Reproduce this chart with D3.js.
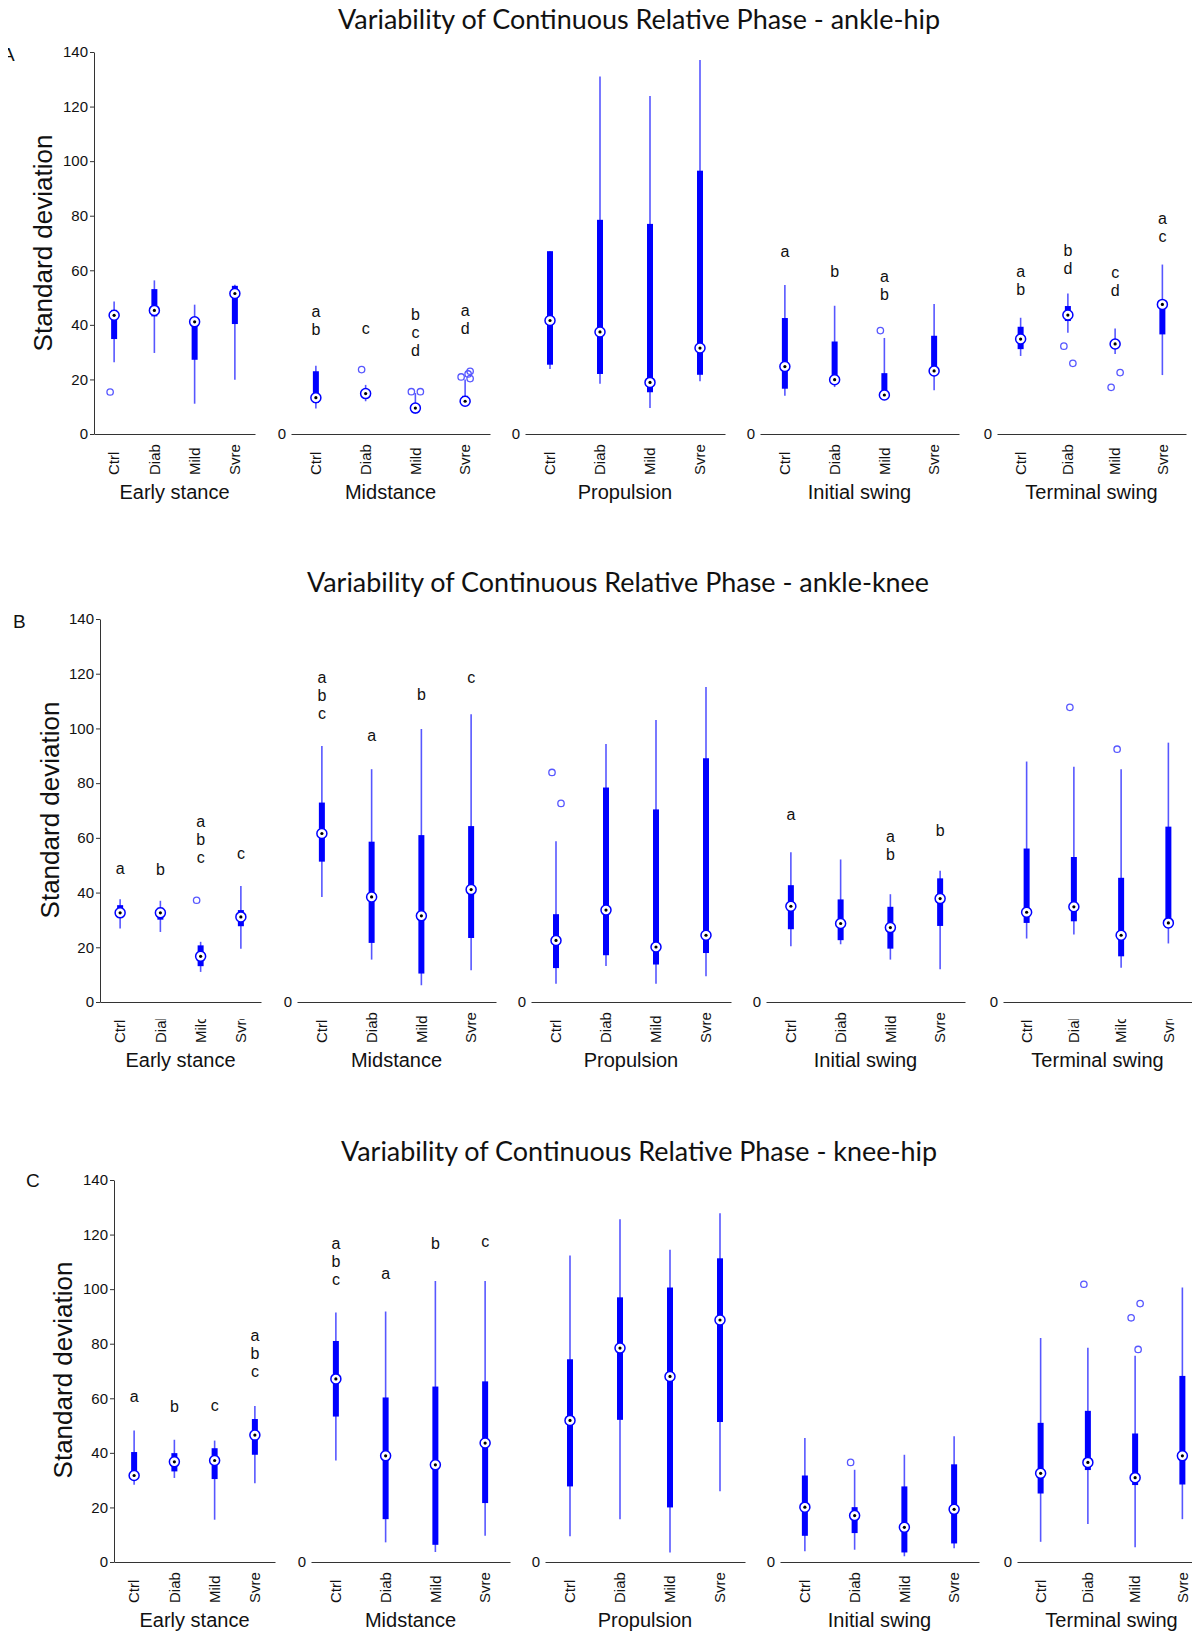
<!DOCTYPE html>
<html>
<head>
<meta charset="utf-8">
<script src="https://cdn.jsdelivr.net/npm/d3@7"></script>
<style>
  body { margin: 0; background: #fff; }
  svg { display: block; }
  text { font-family: "Liberation Sans", Arial, sans-serif; fill: #111; }
</style>
</head>
<body>
<svg width="1192" height="1631"></svg>
<script>
const groups = ["Ctrl", "Diab", "Mild", "Svre"];
const phases = ["Early stance", "Midstance", "Propulsion", "Initial swing", "Terminal swing"];
const yTicks = [0, 20, 40, 60, 80, 100, 120, 140];
const rowTitles = [
  "Variability of Continuous Relative Phase - ankle-hip",
  "Variability of Continuous Relative Phase - ankle-knee",
  "Variability of Continuous Relative Phase - knee-hip",
];
const rowTags = ["A", "B", "C"];

// [whisker low, q1, median, q3, whisker high] per phase, per group
const ankleHipStats = [
  [[26.3, 34.8, 43.5, 45.5, 48.6], [29.7, 43.1, 45.3, 53.1, 56.3], [11.1, 27.2, 41.1, 42.9, 47.4], [19.9, 40.3, 51.5, 54.3, 54.7]],
  [[9.3, 11.4, 13.3, 23, 25], [12, 13.8, 14.8, 16.2, 18], [7.4, 8.6, 9.5, 10.5, 15], [10.4, 10.7, 12, 14, 20]],
  [[23.8, 25.4, 41.6, 67, 67], [18.4, 22, 37.4, 78.5, 131], [9.5, 15.3, 18.9, 77, 123.9], [19.3, 21.7, 31.5, 96.5, 137.1]],
  [[14, 16.6, 24.7, 42.5, 54.6], [17.2, 18.4, 19.9, 33.9, 47], [13.2, 13.6, 14.3, 22.3, 35.2], [16, 22.3, 23.1, 36, 47.6]],
  [[28.6, 31.1, 34.8, 39.3, 42.6], [37.1, 41.4, 43.6, 46.9, 51.5], [29.3, 31.4, 33, 34.4, 38.7], [21.6, 36.5, 47.5, 47.6, 62.1]],
];
const ankleHipOutliers = [
  [[15.4], [], [], []],
  [[], [23.6], [15.5, 15.5], [20.9, 23, 22, 20.3]],
  [[], [], [], []],
  [[], [], [37.9], []],
  [[], [32.2, 25.9], [17.1, 22.5], []],
];
// [letters, value of first letter]
const ankleHipLetters = [
  [null, null, null, null],
  [["ab", 45], ["c", 38.6], ["bcd", 43.7], ["ad", 45.3]],
  [null, null, null, null],
  [["a", 66.9], ["b", 59.6], ["ab", 57.8], null],
  [["ab", 59.5], ["bd", 67.4], ["cd", 59.2], ["ac", 79]],
];

const ankleKneeStats = [
  [[26.9, 31.1, 32.6, 35.4, 37.6], [25.6, 30.1, 32.6, 34.5, 37], [11, 13.1, 16.7, 20.7, 22], [19.5, 27.7, 31.1, 33.6, 42.4]],
  [[38.4, 51.3, 61.6, 72.9, 93.6], [15.5, 21.6, 38.4, 58.6, 85.1], [6.1, 10.4, 31.5, 61, 99.8], [11.6, 23.4, 41.1, 64.3, 105.2]],
  [[6.7, 12.4, 22.5, 32.1, 58.8], [13.2, 17.1, 33.6, 78.4, 94.3], [6.7, 13.7, 20.1, 70.4, 103.1], [9.4, 17.9, 24.4, 89.1, 115.1]],
  [[20.4, 26.6, 35, 42.7, 54.7], [21.1, 22.6, 28.7, 37.5, 52.1], [15.5, 19.5, 27.2, 34.8, 39.4], [12, 27.8, 37.8, 45.2, 48]],
  [[23.2, 28.9, 32.8, 56.1, 87.9], [24.7, 29.5, 34.8, 53, 86], [12.5, 16.7, 24.4, 45.4, 85.1], [21.4, 27.1, 28.9, 64.1, 94.8]],
];
const ankleKneeOutliers = [
  [[], [], [37.2], []],
  [[], [], [], []],
  [[83.9, 72.6], [], [], []],
  [[], [], [], []],
  [[], [107.7], [92.4], []],
];
const ankleKneeLetters = [
  [["a", 48.8], ["b", 48.5], ["abc", 65.9], ["c", 54.3]],
  [["abc", 118.6], ["a", 97.6], ["b", 112.5], ["c", 118.6]],
  [null, null, null, null],
  [["a", 68.4], null, ["ab", 60.4], ["b", 62.6]],
  [null, null, null, null],
];

const kneeHipStats = [
  [[28.3, 30.8, 31.7, 40.3, 48.2], [30.8, 33.2, 36.7, 39.9, 44.8], [15.5, 30.4, 37.2, 41.7, 44.5], [28.9, 39.3, 46.5, 52.4, 57.2]],
  [[37.2, 53.3, 67.1, 81, 91.4], [7.2, 15.7, 38.9, 60.3, 91.8], [3.7, 6.3, 35.6, 64.3, 103], [9.6, 21.6, 43.6, 66.2, 103]],
  [[9.4, 27.7, 51.9, 74.3, 112.3], [15.7, 52.1, 78.4, 97, 125.6], [3.5, 20, 68, 100.6, 114.4], [25.9, 51.3, 88.7, 111.3, 127.8]],
  [[3.9, 9.6, 20.1, 31.7, 45.4], [4.5, 10.6, 17, 20.1, 33.8], [2.1, 3.5, 12.7, 27.7, 39.3], [5, 6.8, 19.3, 35.8, 46.1]],
  [[7.4, 25.1, 32.5, 51, 82.1], [13.9, 33.7, 36.5, 55.4, 78.5], [5.4, 28.2, 30.9, 47.1, 75.6], [15.7, 28.4, 38.9, 68.2, 100.6]],
];
const kneeHipOutliers = [
  [[], [], [], []],
  [[], [], [], []],
  [[], [], [], []],
  [[], [36.5], [], []],
  [[], [101.8], [89.5, 94.7, 77.9], []],
];
const kneeHipLetters = [
  [["a", 60.7], ["b", 57.2], ["c", 57.4], ["abc", 82.9]],
  [["abc", 116.8], ["a", 105.6], ["b", 116.8], ["c", 117.4]],
  [null, null, null, null],
  [null, null, null, null],
  [null, null, null, null],
];

// layout
const panelLeft = [94, 291, 525, 760, 997];
const panelWidth = [161, 199, 200, 199, 189];
const jitter = [-4, 5, 3, 5];
const rows = [
  { stats: ankleHipStats, out: ankleHipOutliers, sig: ankleHipLetters, dx: 0, y0: 434, y1: 52,
    titleX: 338, titleLen: 602, titleY: 29, labX: 43, labY: 243, tagX: 2, tagY: 61, clip: [] },
  { stats: ankleKneeStats, out: ankleKneeOutliers, sig: ankleKneeLetters, dx: 6, y0: 1002, y1: 619,
    titleX: 307, titleLen: 622, titleY: 592, labX: 50, labY: 810, tagX: 13, tagY: 628, clip: [0, 4] },
  { stats: kneeHipStats, out: kneeHipOutliers, sig: kneeHipLetters, dx: 20, y0: 1562, y1: 1180,
    titleX: 341, titleLen: 596, titleY: 1161, labX: 63, labY: 1370, tagX: 26, tagY: 1187, clip: [] },
];

const svg = d3.select("svg");
const defs = svg.append("defs");
defs.append("clipPath").attr("id", "tagclip")
  .append("rect").attr("x", 8).attr("y", 0).attr("width", 40).attr("height", 100);
defs.append("clipPath").attr("id", "labclip")
  .append("rect").attr("x", 0).attr("y", 1019).attr("width", 1192).attr("height", 60);

const boxBlue = "#0000ff";
const lineBlue = "#5757ff";

rows.forEach((row, r) => {
  const y = d3.scaleLinear([0, 140], [row.y0, row.y1]);

  svg.append("text")
    .attr("x", row.titleX).attr("y", row.titleY)
    .attr("textLength", row.titleLen).attr("lengthAdjust", "spacingAndGlyphs")
    .style("font-family", "Lato, 'Open Sans', sans-serif")
    .style("font-size", "26px")
    .text(rowTitles[r]);

  svg.append("text")
    .attr("x", row.tagX).attr("y", row.tagY)
    .attr("clip-path", r === 0 ? "url(#tagclip)" : null)
    .style("font-size", "19px")
    .text(rowTags[r]);

  svg.append("text")
    .attr("transform", `translate(${row.labX},${row.labY}) rotate(-90)`)
    .attr("text-anchor", "middle").attr("dy", "0.35em")
    .style("font-size", "26px")
    .text("Standard deviation");

  phases.forEach((phase, p) => {
    const left = panelLeft[p] + row.dx;
    const right = left + panelWidth[p];
    const x = d3.scaleBand(groups, [left, right]);
    const cx = (gr) => x(gr) + x.bandwidth() / 2;
    const g = svg.append("g");

    const axis = p === 0
      ? d3.axisLeft(y).tickValues(yTicks).tickSize(4).tickSizeOuter(0).tickPadding(2)
      : d3.axisLeft(y).tickValues([0]).tickSize(0).tickSizeOuter(0).tickPadding(5);
    const ya = g.append("g").attr("transform", `translate(${left},0)`).call(axis);
    if (p > 0) ya.select(".domain").remove();
    ya.selectAll("text").style("font-size", "15px").attr("fill", "#111")
      .style("font-family", "'Liberation Sans', Arial, sans-serif");
    ya.selectAll("line, path").attr("stroke", "#333");

    const xa = g.append("g").attr("transform", `translate(0,${y(0)})`)
      .call(d3.axisBottom(x).tickSize(0).tickSizeOuter(0).tickFormat(() => ""));
    xa.select(".domain").attr("stroke", "#333");

    const labs = g.append("g")
      .attr("clip-path", row.clip.includes(p) ? "url(#labclip)" : null);
    labs.selectAll("text").data(groups).join("text")
      .attr("transform", (d) => `translate(${cx(d)},${y(0) + 41}) rotate(-90)`)
      .attr("dy", "0.35em")
      .style("font-size", "15px")
      .text((d) => d);

    g.append("text")
      .attr("x", (left + right) / 2).attr("y", y(0) + 65)
      .attr("text-anchor", "middle")
      .style("font-size", "20px")
      .text(phase);

    const stats = row.stats[p];
    const boxes = g.selectAll("g.box").data(groups).join("g").attr("class", "box");

    boxes.append("line")
      .attr("x1", cx).attr("x2", cx)
      .attr("y1", (d, i) => y(stats[i][0]))
      .attr("y2", (d, i) => y(stats[i][4]))
      .attr("stroke", lineBlue).attr("stroke-width", 1.6);

    boxes.append("rect")
      .attr("x", (d) => cx(d) - 3).attr("width", 6)
      .attr("y", (d, i) => y(stats[i][3]))
      .attr("height", (d, i) => Math.max(1.5, y(stats[i][1]) - y(stats[i][3])))
      .attr("fill", boxBlue);

    boxes.each(function (d, i) {
      const sel = d3.select(this);
      row.out[p][i].forEach((v, k) => {
        sel.append("circle")
          .attr("cx", cx(d) + jitter[k]).attr("cy", y(v)).attr("r", 3.2)
          .attr("fill", "none").attr("stroke", lineBlue).attr("stroke-width", 1.3);
      });
      const sig = row.sig[p][i];
      if (sig) {
        sig[0].split("").forEach((ch, k) => {
          sel.append("text")
            .attr("x", cx(d)).attr("y", y(sig[1]) + k * 18)
            .attr("dy", "0.35em").attr("text-anchor", "middle")
            .style("font-size", "16px")
            .text(ch);
        });
      }
    });

    boxes.append("circle")
      .attr("cx", cx).attr("cy", (d, i) => y(stats[i][2])).attr("r", 5)
      .attr("fill", "#fff").attr("stroke", boxBlue).attr("stroke-width", 1.5);
    boxes.append("circle")
      .attr("cx", cx).attr("cy", (d, i) => y(stats[i][2])).attr("r", 1.6)
      .attr("fill", "#000");
  });
});
</script>
</body>
</html>
